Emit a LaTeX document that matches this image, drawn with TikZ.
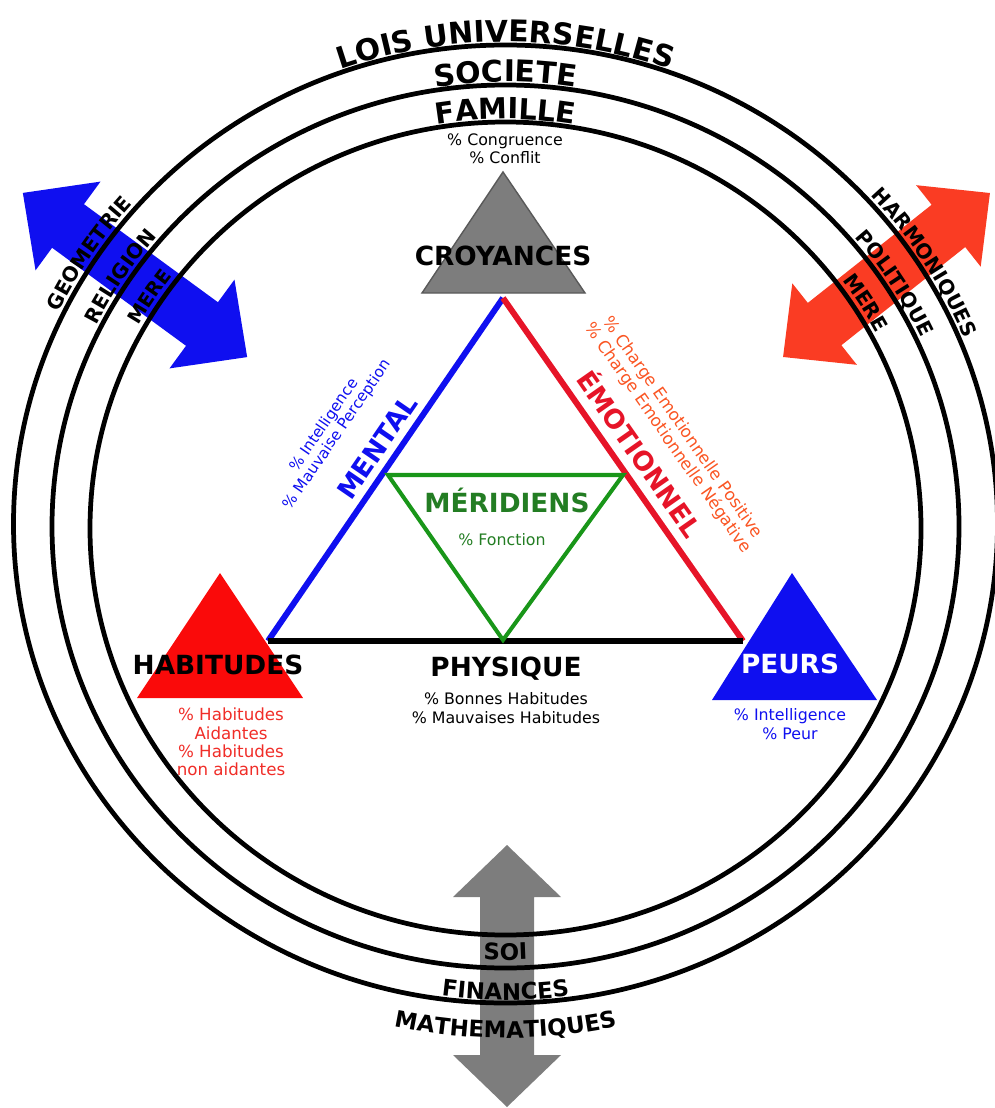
\documentclass[tikz,border=0pt]{standalone}
\usepackage{fontspec}
\setmainfont{DejaVu Sans}
\usetikzlibrary{decorations.text}
\definecolor{arrowblue}{RGB}{15,15,240}
\definecolor{arrowred}{RGB}{250,60,35}
\definecolor{trired}{RGB}{250,10,10}
\definecolor{trigray}{RGB}{125,125,125}
\definecolor{merigreen}{RGB}{25,150,25}
\definecolor{textgreen}{RGB}{35,125,35}
\definecolor{emored}{RGB}{230,20,40}
\definecolor{chargeorange}{RGB}{250,85,35}
\definecolor{habred}{RGB}{240,45,40}
\newcommand{\dblarrow}[7] % centre x, centre y, angle, length, head length, head half width, colour
{
	% shaft and both heads, shaft half width 27
	\begin{scope}[shift={(#1,#2)}, rotate=#3]
		\fill[#7] ({-0.5*#4},0) -- ({-0.5*#4+#5},#6) -- ({-0.5*#4+#5},27) -- ({0.5*#4-#5},27)
			-- ({0.5*#4-#5},#6) -- ({0.5*#4},0) -- ({0.5*#4-#5},-#6) -- ({0.5*#4-#5},-27)
			-- ({-0.5*#4+#5},-27) -- ({-0.5*#4+#5},-#6) -- cycle;
	\end{scope}
}
\newcommand{\ringlabel}[7] % centre, x radius, y radius, start angle, end angle, size in pt, text
{
	\path[shift={(#1)}, decorate, decoration={text along path, text align=center,
		text={|\fontsize{#6}{#6}\selectfont\bfseries|#7}}]
		(#4:#2 and #3) arc[start angle=#4, end angle=#5, x radius=#2, y radius=#3];
}

\begin{document}
\begin{tikzpicture}[x=0.02cm, y=0.02cm,
	ring/.style={line width=2.7pt, black},
	side/.style={line width=3.4pt},
	big/.style={inner sep=0pt, font=\bfseries\fontsize{15}{15}\selectfont},
	note/.style={inner sep=0pt, align=center, font=\fontsize{9}{10.4}\selectfont}]
	% picture is 994 x 1108 px, y measured downwards
	\useasboundingbox (0,0) rectangle (994,-1108);
	
	% big arrows, under the rings
	\dblarrow{135}{-275}{-36.2}{278}{56}{55}{arrowblue};
	\dblarrow{886.5}{-275}{38.4}{264}{53}{52}{arrowred};
	\dblarrow{507}{-976}{90}{262}{52}{54}{trigray};
	
	% rings: famille, societe, lois universelles
	\coordinate (cin) at (505.5,-528.5);
	\coordinate (cmid) at (505.5,-526.5);
	\coordinate (cout) at (505.5,-524);
	\draw[ring] (cin) ellipse [x radius=415.5, y radius=406.5];
	\draw[ring] (cmid) ellipse [x radius=453.5, y radius=441.5];
	\draw[ring] (cout) ellipse [x radius=492, y radius=479];
	
	% top labels
	\ringlabel{cout}{495}{482}{140}{40}{17}{LOIS UNIVERSELLES};
	\ringlabel{cmid}{456.5}{444.5}{120}{60}{17}{SOCIETE};
	\ringlabel{cin}{418.5}{409.5}{120}{60}{16.5}{FAMILLE};
	% left labels
	\ringlabel{cout}{497}{484}{176}{117}{11.5}{GEOMETRIE};
	\ringlabel{cmid}{458.5}{446.5}{176}{117}{11.5}{RELIGION};
	\ringlabel{cin}{421.5}{412.5}{176}{117}{11}{MERE};
	% right labels
	\ringlabel{cout}{497}{484}{62}{3}{11.5}{HARMONIQUES};
	\ringlabel{cmid}{458.5}{446.5}{62}{3}{11.5}{POLITIQUE};
	\ringlabel{cin}{421.5}{412.5}{62}{3}{11.5}{MERE};
	% bottom labels
	\ringlabel{cin}{440.5}{431.5}{240}{300}{13}{SOI};
	\ringlabel{cmid}{485.5}{473.5}{240}{300}{13}{FINANCES};
	\ringlabel{cout}{527}{514}{240}{300}{13}{MATHEMATIQUES};
	
	% main triangle
	\coordinate (hab) at (268,-641);
	\coordinate (croyv) at (503,-298);
	\coordinate (peur) at (743,-641);
	\draw[side, arrowblue] (hab) -- (croyv);
	\draw[side, emored] (croyv) -- (peur);
	\draw[side, black] (hab) -- (peur);
	
	% meridiens, upside down
	\draw[line width=2.3pt, merigreen, line join=miter] (388,-475) -- (623,-475) -- (503,-640) -- cycle;
	
	% corner triangles
	\fill[trigray, draw=black!65, line width=0.8pt] (503,-172) -- (585,-293) -- (422,-293) -- cycle;
	\fill[trired] (220,-573) -- (303,-698) -- (137,-698) -- cycle;
	\fill[arrowblue] (792,-573) -- (877,-700) -- (712,-700) -- cycle;
	
	% texts
	\node[note] (famtxt) at (505,-149) {\% Congruence\\\% Conflit};
	\node[big] (croytxt) at (503,-256) {CROYANCES};
	\node[big] (habtxt) at (218,-665) {HABITUDES};
	\node[note, habred, font=\fontsize{9.5}{10.5}\selectfont] (habnote) at (231,-742)
		{\% Habitudes\\Aidantes\\\% Habitudes\\non aidantes};
	\node[big] (phystxt) at (506,-669) {PHYSIQUE};
	\node[note] (physnote) at (506,-708) {\% Bonnes Habitudes\\\% Mauvaises Habitudes};
	\node[big, white] (peurtxt) at (790,-664) {PEURS};
	\node[note, arrowblue] (peurnote) at (790,-724) {\% Intelligence\\\% Peur};
	\node[big, textgreen] (meritxt) at (507,-500) {MÉRIDIENS};
	\node[note, textgreen] (merinote) at (502,-540) {\% Fonction};
	
	\node[big, arrowblue, rotate=55.5] (menttxt) at (377,-447) {MENTAL};
	\node[note, arrowblue, rotate=55.5, font=\fontsize{8.7}{9.2}\selectfont] (mentnote) at (331,-430)
		{\% Intelligence\\\% Mauvaise Perception};
	\node[big, emored, rotate=-55] (emotxt) at (641,-453) {ÉMOTIONNEL};
	\node[note, chargeorange, rotate=-55, font=\fontsize{9.5}{10.3}\selectfont] (emonote) at (675,-433)
		{\% Charge Emotionnelle Positive\\\% Charge Emotionnelle Négative};
\end{tikzpicture}
\end{document}
